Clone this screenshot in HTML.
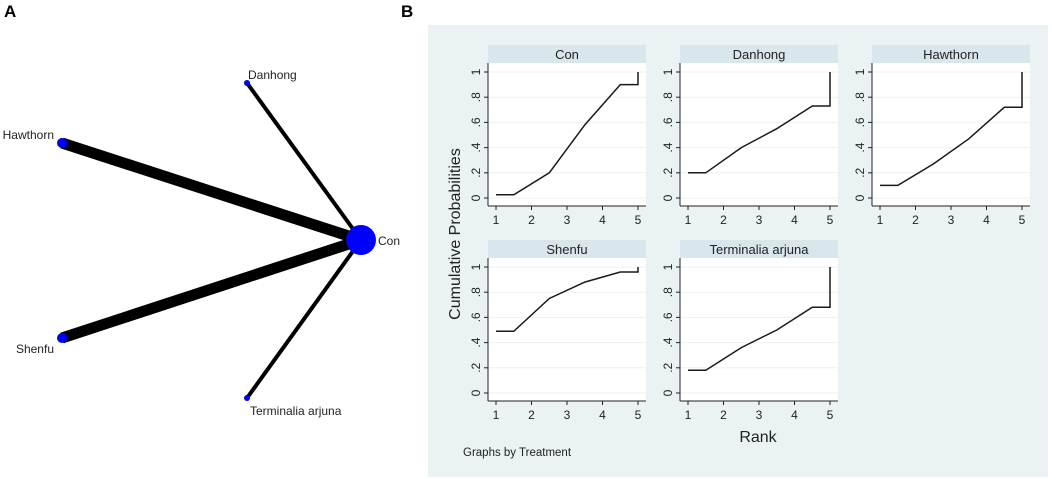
<!DOCTYPE html>
<html><head><meta charset="utf-8">
<style>
html,body{margin:0;padding:0;background:#fff;}
svg{display:block;font-family:"Liberation Sans",Arial,sans-serif;}
</style></head>
<body>
<svg id="fig" width="1052" height="479" viewBox="0 0 1052 479" xmlns="http://www.w3.org/2000/svg">
  <text x="4" y="17" font-size="17" font-weight="bold">A</text>
  <text x="401" y="17" font-size="17" font-weight="bold">B</text>
  <g id="network"></g>
  <rect x="428" y="25" width="620" height="452" fill="#eaf2f3"/>
  <g id="rank"></g>
  <text transform="translate(460,234) rotate(-90)" text-anchor="middle" font-size="16" fill="#222">Cumulative Probabilities</text>
  <text x="758" y="442" text-anchor="middle" font-size="16" fill="#222">Rank</text>
  <text x="463" y="456" font-size="11.5" fill="#222">Graphs by Treatment</text>
</svg>
<script>
// Network data
const nodeNames = ["Con","Danhong","Hawthorn","Shenfu","Terminalia arjuna"];
const nodeSizes = [15,3,5,5,3];
const edgeTargets = ["Danhong","Hawthorn","Shenfu","Terminalia arjuna"];
const edgeWidths = [4,11,11,4];
// Rankogram data
const ranks = [1,1.5,2.5,3.5,4.5,5,5];
const treatments = ["Con","Danhong","Hawthorn","Shenfu","Terminalia arjuna"];
const conVals = [0.025,0.025,0.2,0.58,0.9,0.9,1];
const danhongVals = [0.2,0.2,0.4,0.55,0.73,0.73,1];
const hawthornVals = [0.1,0.1,0.27,0.47,0.72,0.72,1];
const shenfuVals = [0.49,0.49,0.75,0.88,0.96,0.96,1];
const terminaliaVals = [0.18,0.18,0.36,0.5,0.68,0.68,1];
const seriesVals = [conVals,danhongVals,hawthornVals,shenfuVals,terminaliaVals];
const xTicks = [1,2,3,4,5];
const yTicks = [0,0.2,0.4,0.6,0.8,1];
const yTickLabels = ["0",".2",".4",".6",".8","1"];

const NS="http://www.w3.org/2000/svg";
function mk(tag,attrs,parent){const e=document.createElementNS(NS,tag);for(const k in attrs)e.setAttribute(k,attrs[k]);parent.appendChild(e);return e;}

const pos={"Con":[361,240,"Con",378,245,"start"],"Danhong":[247,83,"Danhong",248,79,"start"],"Hawthorn":[62,143,"Hawthorn",54,139,"end"],"Shenfu":[62,338,"Shenfu",54,353,"end"],"Terminalia arjuna":[247,398,"Terminalia arjuna",250,415,"start"]};
const net=document.getElementById('network');
edgeTargets.forEach((t,i)=>{
  const a=pos["Con"],b=pos[t];
  const l=mk('line',{x1:a[0],y1:a[1],x2:b[0],y2:b[1],stroke:'#000','stroke-width':edgeWidths[i]},net);
  
  
});
nodeNames.forEach((n,i)=>{
  const p=pos[n];
  const c=mk('circle',{cx:p[0],cy:p[1],r:nodeSizes[i],fill:'#0000ff'},net);
  
  
  const t=mk('text',{x:p[3],y:p[4],'font-size':12,fill:'#222','text-anchor':p[5]},net);
  t.textContent=n;
  
  
});

const rk=document.getElementById('rank');
const colX=[488,680,872], rowY=[45,240];
treatments.forEach((name,i)=>{
  const col=i%3,row=Math.floor(i/3);
  const L=colX[col],T=rowY[row],W=158;
  const g=mk('g',{},rk);
  
  
  const hdr=mk('rect',{x:L,y:T,width:W,height:18,fill:'#d9e6ec'},g);
  
  
  const ht=mk('text',{x:L+W/2,y:T+14,'text-anchor':'middle','font-size':13,fill:'#222'},g);
  ht.textContent=name;
  
  
  const pT=T+18, pB=T+161;
  mk('rect',{x:L,y:pT,width:W,height:pB-pT,fill:'#fff'},g);
  const y0=T+153, y1=T+27;
  const sx=v=>L+8+(v-1)*(142/4);
  const sy=v=>y0+(y1-y0)*v;
  yTicks.forEach((v,j)=>{
    mk('line',{x1:L,x2:L+W,y1:sy(v),y2:sy(v),stroke:'#eaf2f3','stroke-width':1},g);
    mk('line',{x1:L-4,x2:L,y1:sy(v),y2:sy(v),stroke:'#222','stroke-width':1},g);
    const t=mk('text',{transform:`translate(${L-8},${sy(v)}) rotate(-90)`,'text-anchor':'middle','font-size':12,fill:'#222'},g);
    t.textContent=yTickLabels[j];
    
    
  });
  mk('line',{x1:L,x2:L,y1:pT,y2:pB,stroke:'#222','stroke-width':1},g);
  mk('line',{x1:L,x2:L+W,y1:pB,y2:pB,stroke:'#222','stroke-width':1},g);
  xTicks.forEach(v=>{
    mk('line',{x1:sx(v),x2:sx(v),y1:pB,y2:pB+4,stroke:'#222','stroke-width':1},g);
    const t=mk('text',{x:sx(v),y:pB+18,'text-anchor':'middle','font-size':12,fill:'#222'},g);
    t.textContent=v;
    
    
  });
  const vals=seriesVals[i];
  const d=ranks.map((r,k)=>(k?'L':'M')+sx(r).toFixed(1)+','+sy(vals[k]).toFixed(1)).join(' ');
  const p=mk('path',{d:d,fill:'none',stroke:'#1a1a1a','stroke-width':1.5},g);
  
  
});
</script>
</body></html>
